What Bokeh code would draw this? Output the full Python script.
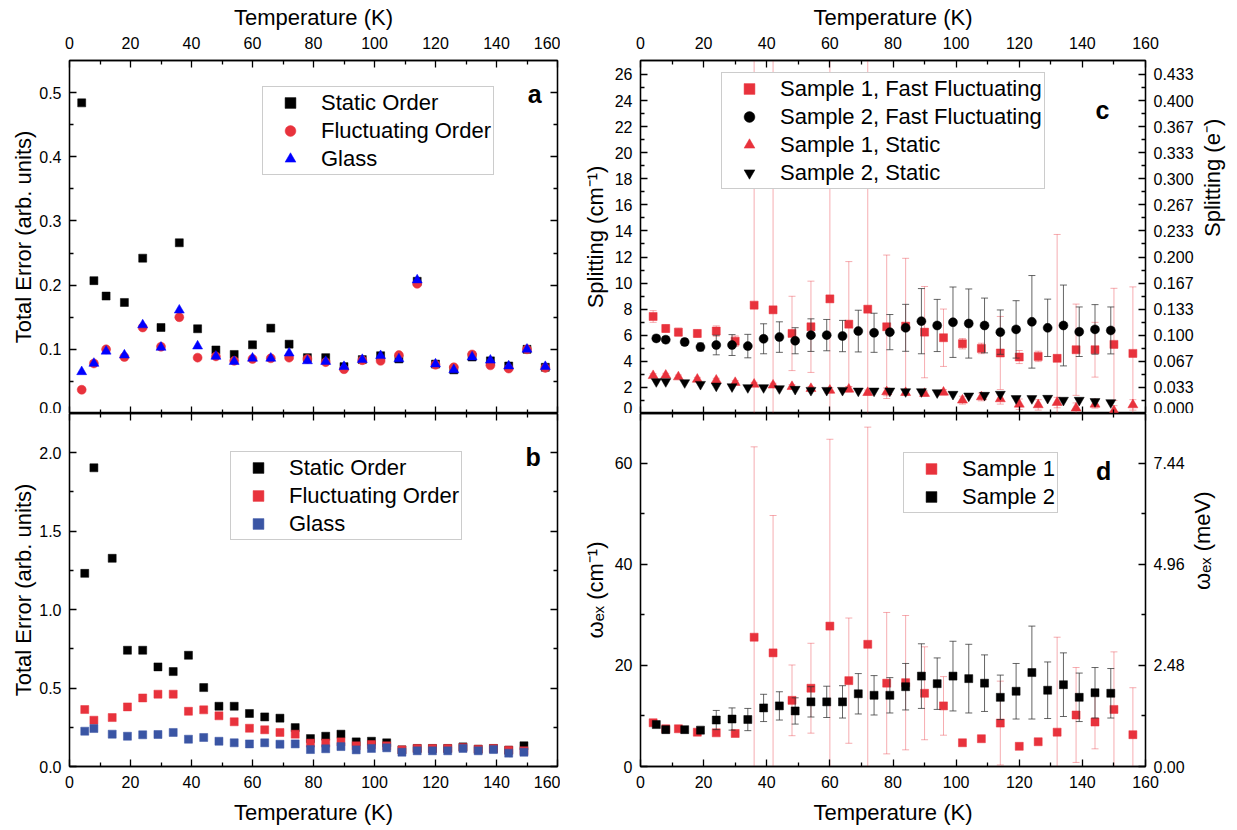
import math
from bokeh.plotting import figure
from bokeh.models import (Range1d, LinearAxis, FixedTicker, NumeralTickFormatter,
                          CustomJSTickFormatter, Legend, LegendItem, Label,
                          ColumnDataSource)
from bokeh.layouts import column, row
from bokeh.embed import file_html
from bokeh.resources import INLINE

FONT = "Liberation Sans"
RED = "#e8323c"
BLUE_TRI = "#0000ff"
BLUE_SQ = "#3a55a4"

# ---------------- data ----------------
# temperatures (K)
T1 = [4, 8, 12, 18, 24, 30, 36, 42, 48, 54, 60, 66, 72, 78, 84, 90, 96, 102, 108,
      114, 120, 126, 132, 138, 144, 150, 156]
T2 = [5, 8, 14, 19, 24, 29, 34, 39, 44, 49, 54, 59, 64, 69, 74, 79, 84, 89, 94, 99,
      104, 109, 114, 119, 124, 129, 134, 139, 144, 149]

# panel a: total error (arb. units), sample 1
a_static = [0.484, 0.207, 0.183, 0.173, 0.242, 0.134, 0.266, 0.132, 0.099, 0.092, 0.107,
            0.133, 0.108, 0.087, 0.087, 0.073, 0.084, 0.090, 0.085, 0.206, 0.077, 0.068,
            0.088, 0.082, 0.074, 0.100, 0.072]
a_fluct = [0.037, 0.078, 0.100, 0.088, 0.134, 0.104, 0.150, 0.087, 0.089, 0.082, 0.085,
           0.086, 0.087, 0.085, 0.080, 0.069, 0.083, 0.082, 0.091, 0.202, 0.076, 0.072,
           0.092, 0.075, 0.070, 0.100, 0.071]
a_glass = [0.065, 0.078, 0.097, 0.091, 0.138, 0.103, 0.161, 0.105, 0.089, 0.081, 0.086,
           0.086, 0.094, 0.082, 0.081, 0.073, 0.084, 0.090, 0.085, 0.208, 0.077, 0.068,
           0.088, 0.083, 0.074, 0.100, 0.073]

# panel b: total error (arb. units), sample 2
b_static = [1.231, 1.904, 1.327, 0.741, 0.741, 0.635, 0.605, 0.709, 0.503, 0.384, 0.384,
            0.338, 0.316, 0.308, 0.248, 0.178, 0.193, 0.206, 0.157, 0.161, 0.151, 0.106,
            0.115, 0.115, 0.115, 0.125, 0.110, 0.115, 0.104, 0.132]
b_fluct = [0.363, 0.295, 0.312, 0.380, 0.437, 0.461, 0.461, 0.352, 0.361, 0.323, 0.285,
           0.244, 0.234, 0.217, 0.206, 0.149, 0.149, 0.157, 0.132, 0.140, 0.132, 0.106,
           0.115, 0.115, 0.115, 0.121, 0.110, 0.115, 0.104, 0.100]
b_glass = [0.225, 0.242, 0.206, 0.193, 0.202, 0.204, 0.217, 0.174, 0.185, 0.161, 0.151,
           0.144, 0.151, 0.142, 0.144, 0.108, 0.113, 0.127, 0.106, 0.115, 0.119, 0.091,
           0.100, 0.100, 0.100, 0.115, 0.100, 0.108, 0.085, 0.091]

# panel c: splitting (cm^-1)
c_s1_fast = [7.44, 6.52, 6.24, 6.14, 6.32, 5.55, 8.31, 7.95, 6.14, 6.65, 8.79, 6.85, 8.00,
             6.65, 6.70, 6.24, 5.81, 5.35, 4.99, 4.64, 4.33, 4.38, 4.23, 4.89, 4.89, 5.30, 4.61]
c_s1_fast_err = [0.45, 0.3, 0.3, 0.3, 0.4, 0.4, 26.0, 26.0, 2.85, 3.5, 26.0, 4.8, 26.0,
                 5.5, 5.2, 3.5, 2.2, 0.4, 0.4, 2.8, 0.5, 0.4, 9.5, 3.5, 2.1, 4.3, 5.1]
c_s2_fast = [5.76, 5.66, 5.48, 5.10, 5.25, 5.25, 5.17, 5.73, 5.86, 5.58, 6.01, 6.01, 5.94,
             6.32, 6.19, 6.24, 6.57, 7.08, 6.75, 7.00, 6.90, 6.75, 6.24, 6.45, 7.03, 6.57,
             6.75, 6.27, 6.45, 6.37]
c_s2_fast_err = [0.25, 0.25, 0.25, 0.3, 0.75, 0.8, 0.9, 1.15, 1.17, 1.0, 1.25, 1.2, 1.2,
                 1.6, 1.5, 1.35, 1.8, 2.5, 2.0, 2.7, 2.65, 2.1, 1.7, 2.2, 3.55, 2.2, 3.1,
                 1.9, 1.9, 1.8]
c_s1_static = [2.90, 2.93, 2.80, 2.62, 2.55, 2.37, 2.24, 2.17, 2.06, 1.91, 1.78, 1.86, 1.60,
               1.66, 1.60, 1.53, 1.63, 1.02, 1.27, 1.12, 0.71, 0.66, 0.84, 0.41, 0.71, 0.20,
               0.66]
c_s1_static_err = [0.15, 0.15, 0.15, 0.15, 0.15, 0.15, 0.15, 0.15, 0.15, 0.15, 0.2, 0.2, 0.2,
                   0.3, 0.2, 0.2, 0.2, 0.3, 0.3, 0.4, 0.4, 0.4, 0.4, 0.4, 0.3, 0.4, 0.4]
c_s2_static = [2.45, 2.45, 2.37, 2.24, 2.11, 2.06, 1.99, 1.99, 1.91, 1.86, 1.78, 1.78, 1.78,
               1.73, 1.73, 1.73, 1.68, 1.68, 1.60, 1.48, 1.35, 1.40, 1.48, 1.15, 1.15, 1.17,
               1.02, 1.02, 0.92, 0.84]

# panel d: omega_ex (cm^-1)
d_s1 = [8.66, 7.47, 7.47, 6.80, 6.67, 6.54, 25.6, 22.5, 13.1, 15.5, 27.8, 17.0, 24.2, 16.5,
        16.6, 14.5, 12.0, 4.7, 5.5, 8.6, 4.0, 4.9, 6.8, 10.2, 8.8, 11.3, 6.3]
d_s1_err = [0.3, 0.3, 0.3, 0.3, 0.5, 0.4, 37.7, 27.2, 7.0, 8.9, 37.0, 12.4, 43.0, 14.0,
            13.3, 9.2, 5.8, 0.3, 0.3, 8.3, 0.4, 0.3, 18.8, 9.4, 5.3, 11.4, 9.3]
d_s2 = [8.3, 7.3, 7.3, 7.2, 9.2, 9.4, 9.3, 11.6, 12.0, 11.0, 12.8, 12.8, 12.8, 14.4, 14.1,
        14.1, 15.8, 17.9, 16.4, 17.9, 17.4, 16.5, 13.7, 14.9, 18.6, 15.1, 16.2, 13.7, 14.6,
        14.5]
d_s2_err = [0.4, 0.3, 0.3, 0.4, 1.9, 2.2, 2.2, 2.7, 2.8, 2.6, 3.0, 3.1, 3.2, 4.0, 3.9, 3.5,
            4.6, 6.4, 5.1, 6.9, 6.8, 5.6, 4.4, 5.5, 9.2, 5.6, 6.3, 4.8, 5.0, 4.9]

# ticks
x_ticks = [0, 20, 40, 60, 80, 100, 120, 140, 160]
x_minor = [10, 30, 50, 70, 90, 110, 130, 150]
a_ticks = [0.0, 0.1, 0.2, 0.3, 0.4, 0.5]
a_minor = [0.05, 0.15, 0.25, 0.35, 0.45]
b_ticks = [0.0, 0.5, 1.0, 1.5, 2.0]
b_minor = [0.25, 0.75, 1.25, 1.75]
c_ticks = [0, 2, 4, 6, 8, 10, 12, 14, 16, 18, 20, 22, 24, 26]
c_minor = [1, 3, 5, 7, 9, 11, 13, 15, 17, 19, 21, 23, 25]
d_ticks = [0, 20, 40, 60]
d_minor = [10, 30, 50]
CM_PER_E = 60.0        # splitting: cm^-1 per e-
MEV_PER_CM = 0.124     # omega_ex: meV per cm^-1
c_right_ticks = [t / CM_PER_E for t in c_ticks]
c_right_minor = [t / CM_PER_E for t in c_minor]
d_right_ticks = [0.0, 2.48, 4.96, 7.44]
d_right_minor = [1.24, 3.72, 6.20]

X_MAX = 160
A_MAX, B_MAX, C_MAX, D_MAX = 0.55, 2.25, 27.07, 69.9

BLANK = CustomJSTickFormatter(code="return ''")


# ---------------- helpers ----------------
def base_fig(y_max, fw, fh, bl, br, bt, bb):
    p = figure(frame_width=fw, frame_height=fh,
               x_range=Range1d(0, X_MAX), y_range=Range1d(0, y_max),
               x_axis_location=None, y_axis_location=None,
               toolbar_location=None, tools="", output_backend="svg",
               min_border_left=bl, min_border_right=br,
               min_border_top=bt, min_border_bottom=bb)
    p.grid.visible = False
    p.outline_line_color = "black"
    p.outline_line_width = 1.3
    p.background_fill_color = "white"
    p.border_fill_color = "white"
    return p


def add_axis(p, side, ticks, minor, labeled, title=None, fmt=None,
             range_name=None, label_standoff=8, title_standoff=6, upward=False):
    ax = LinearAxis(ticker=FixedTicker(ticks=ticks, minor_ticks=minor))
    if range_name is not None:
        ax.y_range_name = range_name
    ax.major_tick_in = 7
    ax.major_tick_out = 0
    ax.minor_tick_in = 4
    ax.minor_tick_out = 0
    ax.axis_line_color = "black"
    ax.axis_line_width = 1.3
    ax.major_tick_line_width = 1.3
    ax.minor_tick_line_width = 1.3
    ax.major_tick_line_color = "black"
    ax.minor_tick_line_color = "black"
    if labeled:
        ax.major_label_text_font = FONT
        ax.major_label_text_font_size = "16px"
        ax.major_label_text_color = "black"
        ax.major_label_standoff = label_standoff
        if fmt is not None:
            ax.formatter = fmt
        if title is not None:
            ax.axis_label = title
            ax.axis_label_text_font = FONT
            ax.axis_label_text_font_size = "22px"
            ax.axis_label_text_font_style = "normal"
            ax.axis_label_text_color = "black"
            ax.axis_label_standoff = title_standoff
            if upward:
                ax.axis_label_orientation = math.pi / 2
    else:
        ax.formatter = BLANK
        ax.major_label_text_font_size = "0px"
        ax.major_label_standoff = 0
    p.add_layout(ax, side)
    return ax


def errbars(p, x, y, e, color, alpha, cap=7):
    lo = [yy - ee for yy, ee in zip(y, e)]
    hi = [yy + ee for yy, ee in zip(y, e)]
    src = ColumnDataSource(dict(x=x, lo=lo, hi=hi))
    p.segment(x0="x", y0="lo", x1="x", y1="hi", source=src, line_color=color,
              line_alpha=alpha, line_width=1)
    for key in ("lo", "hi"):
        p.scatter(x="x", y=key, source=src, marker="dash", size=cap, line_color=color,
                  line_alpha=alpha, line_width=1)


def pts(p, x, y, marker, color, size):
    return p.scatter(x=x, y=y, marker=marker, size=size, fill_color=color,
                     line_color=color, line_width=0.5)


def make_legend(p, entries, loc, font_size="22px"):
    leg = Legend(items=[LegendItem(label=lab, renderers=[r]) for lab, r in entries],
                 location=loc)
    leg.label_text_font = FONT
    leg.label_text_font_size = font_size
    leg.label_text_color = "black"
    leg.padding = 2
    leg.spacing = 1
    leg.margin = 0
    leg.label_height = 27
    leg.glyph_height = 27
    leg.glyph_width = 50
    leg.label_standoff = 6
    leg.border_line_color = "#9a9a9a"
    leg.border_line_width = 1
    leg.background_fill_color = "white"
    leg.background_fill_alpha = 1.0
    p.add_layout(leg)


def panel_label(p, x, y, text):
    p.add_layout(Label(x=x, y=y, text=text, text_font=FONT, text_font_size="25px",
                       text_font_style="bold", text_align="center",
                       text_baseline="alphabetic", text_color="black"))


def edge_tick_label(p, x, y, text, x_offset, align):
    # lower half of the shared-boundary tick label of the panel above
    p.add_layout(Label(x=x, y=y, text=text, x_offset=x_offset, text_font=FONT,
                       text_font_size="16px", text_align=align, text_baseline="middle",
                       text_color="black"))


TOP_LAB, TOP_TTL = 12, 4
BOT_LAB, BOT_TTL = 9, 9

# ---------------- panel a ----------------
pa = base_fig(A_MAX, 488, 353, 69, 3, 60, 0)
add_axis(pa, "above", x_ticks, x_minor, True, "Temperature (K)", title_standoff=TOP_TTL,
         label_standoff=TOP_LAB)
add_axis(pa, "below", x_ticks, x_minor, False)
add_axis(pa, "left", a_ticks, a_minor, True, "Total Error (arb. units)",
         fmt=NumeralTickFormatter(format="0.0"), title_standoff=0)
add_axis(pa, "right", a_ticks, a_minor, False)
ra1 = pts(pa, T1, a_static, "square", "black", 8)
ra2 = pts(pa, T1, a_fluct, "circle", RED, 9)
ra3 = pts(pa, T1, a_glass, "triangle", BLUE_TRI, 10)
make_legend(pa, [("Static Order", ra1), ("Fluctuating Order", ra2), ("Glass", ra3)],
            (193, 238))
panel_label(pa, 152.5, 0.498, "a")

# ---------------- panel b ----------------
pb = base_fig(B_MAX, 488, 353, 69, 3, 0, 62)
add_axis(pb, "below", x_ticks, x_minor, True, "Temperature (K)", title_standoff=BOT_TTL,
         label_standoff=BOT_LAB)
add_axis(pb, "above", x_ticks, x_minor, False)
add_axis(pb, "left", b_ticks, b_minor, True, "Total Error (arb. units)",
         fmt=NumeralTickFormatter(format="0.0"), title_standoff=0)
add_axis(pb, "right", b_ticks, b_minor, False)
rb1 = pts(pb, T2, b_static, "square", "black", 8)
rb2 = pts(pb, T2, b_fluct, "square", RED, 8)
rb3 = pts(pb, T2, b_glass, "square", BLUE_SQ, 8)
make_legend(pb, [("Static Order", rb1), ("Fluctuating Order", rb2), ("Glass", rb3)],
            (161, 226))
panel_label(pb, 152.0, 1.97, "b")
edge_tick_label(pb, 0, B_MAX, "0.0", -8, "right")

# ---------------- panel c ----------------
pc = base_fig(C_MAX, 505, 353, 80, 90, 60, 0)
pc.extra_y_ranges = {"e": Range1d(0, C_MAX / CM_PER_E)}
add_axis(pc, "above", x_ticks, x_minor, True, "Temperature (K)", title_standoff=TOP_TTL,
         label_standoff=TOP_LAB)
add_axis(pc, "below", x_ticks, x_minor, False)
add_axis(pc, "left", c_ticks, c_minor, True, "Splitting (cm\u207b\u00b9)",
         fmt=NumeralTickFormatter(format="0"), title_standoff=4)
add_axis(pc, "right", c_right_ticks, c_right_minor, True, "Splitting (e\u207b)",
         fmt=NumeralTickFormatter(format="0.000"), range_name="e", title_standoff=16,
         upward=True)
errbars(pc, T1, c_s1_fast, c_s1_fast_err, RED, 0.4)
rc1 = pts(pc, T1, c_s1_fast, "square", RED, 8)
errbars(pc, T2, c_s2_fast, c_s2_fast_err, "#333333", 0.75)
rc2 = pts(pc, T2, c_s2_fast, "circle", "black", 9)
errbars(pc, T1, c_s1_static, c_s1_static_err, RED, 0.4)
rc3 = pts(pc, T1, c_s1_static, "triangle", RED, 10)
rc4 = pts(pc, T2, c_s2_static, "inverted_triangle", "black", 10)
make_legend(pc, [("Sample 1, Fast Fluctuating", rc1), ("Sample 2, Fast Fluctuating", rc2),
                 ("Sample 1, Static", rc3), ("Sample 2, Static", rc4)], (81, 224))
panel_label(pc, 146.4, 23.3, "c")

# ---------------- panel d ----------------
pd_ = base_fig(D_MAX, 505, 353, 80, 90, 0, 62)
pd_.extra_y_ranges = {"mev": Range1d(0, D_MAX * MEV_PER_CM)}
add_axis(pd_, "below", x_ticks, x_minor, True, "Temperature (K)", title_standoff=BOT_TTL,
         label_standoff=BOT_LAB)
add_axis(pd_, "above", x_ticks, x_minor, False)
add_axis(pd_, "left", d_ticks, d_minor, True, "\u03c9\u2091\u2093 (cm\u207b\u00b9)",
         fmt=NumeralTickFormatter(format="0"), title_standoff=4)
add_axis(pd_, "right", d_right_ticks, d_right_minor, True, "\u03c9\u2091\u2093 (meV)",
         fmt=NumeralTickFormatter(format="0.00"), range_name="mev", title_standoff=15,
         upward=True)
errbars(pd_, T1, d_s1, d_s1_err, RED, 0.4)
rd1 = pts(pd_, T1, d_s1, "square", RED, 8)
errbars(pd_, T2, d_s2, d_s2_err, "#333333", 0.75)
rd2 = pts(pd_, T2, d_s2, "square", "black", 8)
make_legend(pd_, [("Sample 1", rd1), ("Sample 2", rd2)], (263, 253))
panel_label(pd_, 146.7, 58.6, "d")
edge_tick_label(pd_, 0, D_MAX, "0", -8, "right")
edge_tick_label(pd_, X_MAX, D_MAX, "0.000", 8, "left")

layout = column(row(pa, pc), row(pb, pd_))
open("out.html", "w").write(file_html(layout, INLINE))
